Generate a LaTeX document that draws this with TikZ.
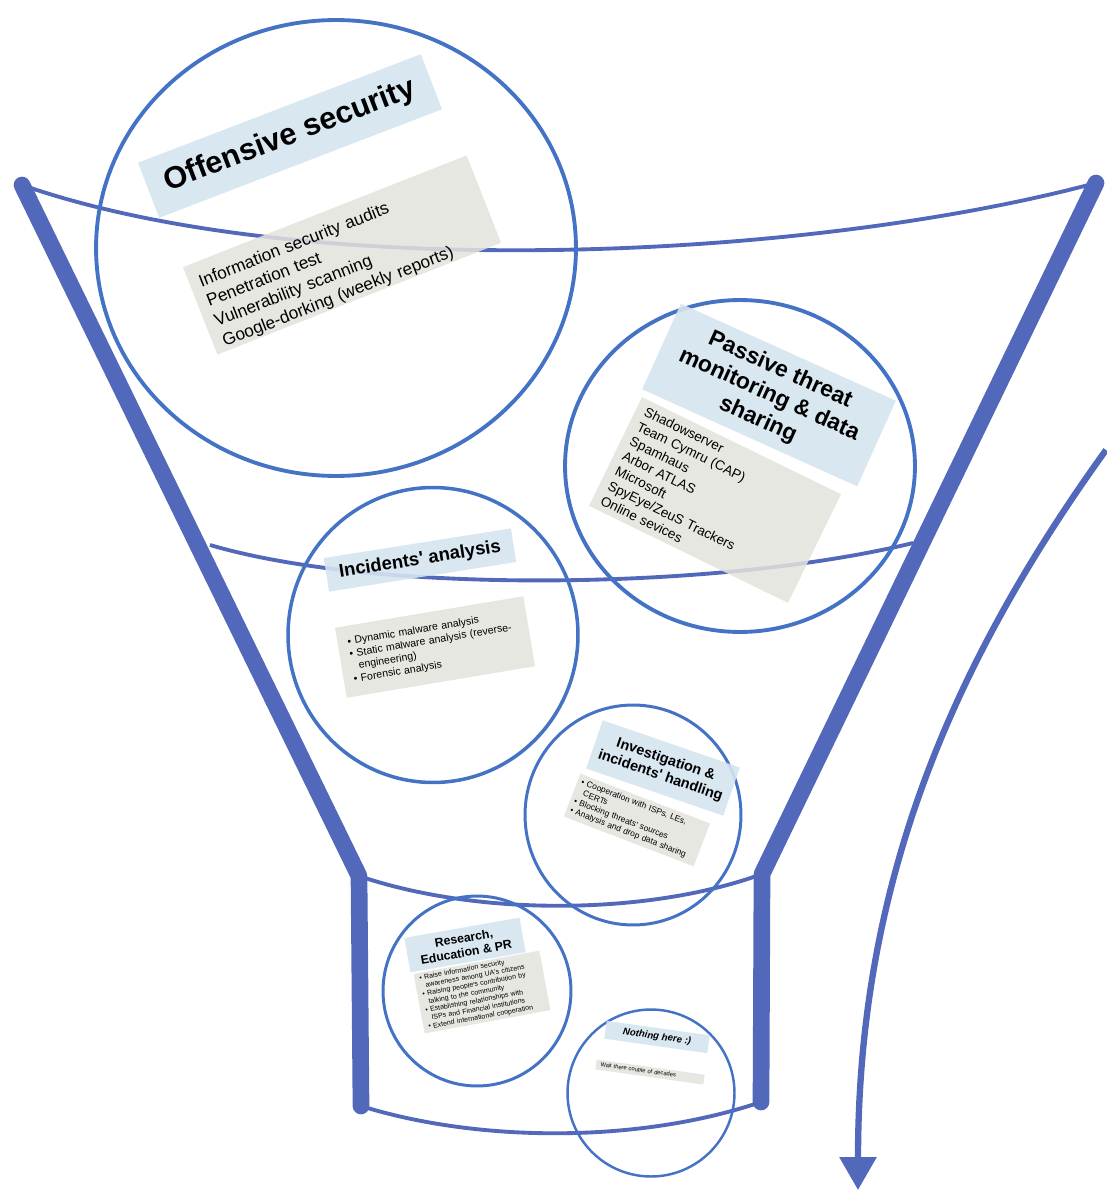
\documentclass[tikz,border=0pt]{standalone}
\usepackage{fontspec}
\setmainfont{Liberation Sans}
\usetikzlibrary{arrows.meta,shapes.geometric}

\definecolor{funnelblue}{RGB}{82,104,186}
\definecolor{ringblue}{RGB}{68,114,196}
\definecolor{titleblue}{RGB}{213,228,239}
\definecolor{listgray}{RGB}{227,227,221}

\newcommand{\fsz}[2]{\fontsize{#1}{#2}\selectfont}
\newcommand{\qs}{\textquotesingle}

\begin{document}
\begin{tikzpicture}[x=0.02cm,y=-0.02cm,
    ring/.style={draw=ringblue,ellipse,inner sep=0pt},
    titlebox/.style={fill=titleblue,fill opacity=0.9,text opacity=1,
        align=center,inner sep=0pt},
    listbox/.style={fill=listgray,fill opacity=0.85,text opacity=1,
        align=left,inner ysep=0pt},
    section/.style={draw=funnelblue,line width=2.2pt},
]
\useasboundingbox (0,0) rectangle (1106,1193);

% Funnel corners
\coordinate (lt) at (22,185);
\coordinate (lm) at (359,876);
\coordinate (lb) at (361,1106);
\coordinate (rt) at (1096,183);
\coordinate (rm) at (762,874);
\coordinate (rb) at (761,1102);

% Funnel walls
\draw
[
    draw=funnelblue,
    line width=9.5pt,
    line cap=round,
    line join=round
] (lt) -- (lm) -- (lb);
\draw
[
    draw=funnelblue,
    line width=9.5pt,
    line cap=round,
    line join=round
] (rt) -- (rm) -- (rb);

% Cross sections
\draw[section] (lt) .. controls (300,282) and (800,262) .. (rt);
\draw[section] (210,545) .. controls (380,595) and (720,590) .. (913,543);
\draw[section] (lm) .. controls (480,917) and (650,915) .. (rm);
\draw[section] (lb) .. controls (480,1143) and (640,1143) .. (rb);

% Circles
\node[ring,line width=2.2pt,minimum width=9.6cm,minimum height=9.12cm]
    (offring) at (336,248) {};
\node[ring,line width=2.2pt,minimum width=7cm,minimum height=6.64cm]
    (passring) at (740,466) {};
\node[ring,line width=2pt,minimum width=5.8cm,minimum height=5.9cm]
    (incring) at (433,635) {};
\node[ring,line width=1.7pt,minimum width=4.32cm,minimum height=4.4cm]
    (invring) at (633,815) {};
\node[ring,line width=1.7pt,minimum width=3.76cm,minimum height=3.8cm]
    (resring) at (477,991) {};
\node[ring,line width=1.4pt,minimum width=3.34cm,minimum height=3.34cm]
    (nothring) at (651,1093) {};

% Offensive security
\node
[
    titlebox,
    rotate=21,
    minimum width=6.06cm,
    minimum height=1.18cm,
    font=\bfseries\fsz{17.5}{20}
] (offtitle) at (290,136) {Offensive security};
\node
[
    listbox,
    rotate=21.5,
    text width=5.7cm,
    inner xsep=0.2cm,
    minimum height=1.88cm,
    font=\fsz{9.8}{12.2}
] (offlist) at (342,255) {\vphantom{I}\\[-5pt]Information security audits\\Penetration test\\
    Vulnerability scanning\\Google-dorking (weekly reports)};

% Passive threat monitoring
\node
[
    titlebox,
    rotate=-24.3,
    minimum width=4.72cm,
    minimum height=1.88cm,
    font=\bfseries\fsz{13}{15.5}
] (passtitle) at (769,395) {Passive threat\\monitoring \& data\\sharing};
\node
[
    listbox,
    rotate=-26,
    text width=4.07cm,
    inner xsep=0.18cm,
    minimum height=2.42cm,
    font=\fsz{7.7}{9.4}
] (passlist) at (715,500) {Shadowserver\\Team Cymru (CAP)\\Spamhaus\\Arbor ATLAS\\
    Microsoft\\SpyEye/ZeuS Trackers\\Online sevices};

% Incidents' analysis
\node
[
    titlebox,
    rotate=9,
    minimum width=3.79cm,
    minimum height=0.68cm,
    font=\bfseries\fsz{10.5}{12}
] (inctitle) at (420,560) {Incidents\qs{} analysis};
\node
[
    listbox,
    rotate=9.5,
    text width=3.42cm,
    inner xsep=0.2cm,
    minimum height=1.42cm,
    font=\fsz{6}{7.2}
] (inclist) at (435,647) {• Dynamic malware analysis\\
    • Static malware analysis (reverse-\\\hphantom{• }engineering)\\
    • Forensic analysis};

% Investigation
\node
[
    titlebox,
    rotate=-19,
    minimum width=2.9cm,
    minimum height=1.02cm,
    font=\bfseries\fsz{8.2}{9.6}
] (invtitle) at (663,768) {Investigation \&\\incidents\qs{} handling};
\node
[
    listbox,
    rotate=-21,
    text width=2.62cm,
    inner xsep=0.08cm,
    minimum height=0.92cm,
    font=\fsz{4.8}{5.8}
] (invlist) at (637,820) {• Cooperation with ISPs, LEs,\\\hphantom{• }CERTs\\
    • Blocking threats\qs{} sources\\• Analysis and drop data sharing};

% Research
\node
[
    titlebox,
    rotate=10,
    minimum width=2.34cm,
    minimum height=0.7cm,
    font=\bfseries\fsz{7}{8.2}
] (restitle) at (465,945) {Research,\\Education \& PR};
\node
[
    listbox,
    rotate=10.5,
    text width=2.36cm,
    inner xsep=0.1cm,
    minimum height=1.21cm,
    font=\fsz{4}{4.7}
] (reslist) at (482,992) {• Raise information security\\
    \hphantom{• }awareness among UA\qs{}s citizens\\
    • Raising people\qs{}s contribution by\\\hphantom{• }talking to the community\\
    • Establishing relationships with\\
    \hphantom{• }ISPs and Financial institutions\\
    • Extend international cooperation};

% Nothing here
\node
[
    titlebox,
    rotate=-8,
    minimum width=2.08cm,
    minimum height=0.36cm,
    font=\bfseries\itshape\fsz{5.5}{6.5}
] (nothtitle) at (657,1037) {Nothing here :)};
\node
[
    listbox,
    rotate=-8,
    text width=2cm,
    inner xsep=0.09cm,
    minimum height=0.2cm,
    font=\fsz{3.3}{4}
] (nothlist) at (650,1072) {Wait there couple of decades};

% Way out
\coordinate (outstart) at (1106,450);
\coordinate (outend) at (858,1190);
\draw
[
    draw=funnelblue,
    line width=3.6pt,
    -{Triangle[length=0.66cm,width=0.72cm]}
] (outstart) .. controls (940,680) and (858,900) .. (outend);
\end{tikzpicture}
\end{document}
